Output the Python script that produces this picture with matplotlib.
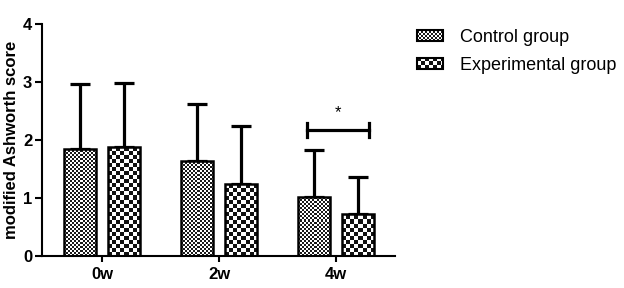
import numpy as np
import matplotlib
matplotlib.use("Agg")
import matplotlib.pyplot as plt
from matplotlib.patches import Rectangle
from matplotlib.legend_handler import HandlerBase

plt.rcParams['font.family'] = ['Liberation Sans', 'DejaVu Sans']

weeks = ['0w', '2w', '4w']
groups = ['Control group', 'Experimental group']
control_mean = [1.84, 1.63, 1.02]
control_sd = [1.12, 0.99, 0.81]
exp_mean = [1.88, 1.24, 0.73]
exp_sd = [1.11, 1.00, 0.63]

# checker cell size (pixels) for each group
cells = [2, 4]
dark = ['#1a1a1a', '#111111']


def checker(nx, ny, c0, c1):
    a = (np.add.outer(np.arange(ny), np.arange(nx)) % 2).astype(float)
    rgb0 = np.array(matplotlib.colors.to_rgb(c0))
    rgb1 = np.array(matplotlib.colors.to_rgb(c1))
    return rgb0[None, None, :] * (1 - a[..., None]) + rgb1[None, None, :] * a[..., None]


class CheckerHandler(HandlerBase):
    def __init__(self, cell, color):
        super().__init__()
        self.cell = cell
        self.color = color

    def create_artists(self, legend, orig_handle, xdescent, ydescent,
                       width, height, fontsize, trans):
        arts = []
        c = self.cell * 72 / 100.0
        nx = int(np.ceil(width / c))
        ny = int(np.ceil(height / c))
        for i in range(nx):
            for j in range(ny):
                if (i + j) % 2 == 0:
                    w = min(c, width - i * c)
                    h = min(c, height - j * c)
                    r = Rectangle((-xdescent + i * c, -ydescent + j * c), w, h,
                                  facecolor=self.color, edgecolor='none', transform=trans)
                    arts.append(r)
        frame = Rectangle((-xdescent, -ydescent), width, height, facecolor='none',
                          edgecolor='black', linewidth=1.5, transform=trans)
        arts.append(frame)
        return arts


fig = plt.figure(figsize=(6.24, 2.88), dpi=100)
ax = fig.add_axes([42 / 624, 1 - 256 / 288, (395 - 42) / 624, (256 - 24) / 288])
ax.set_xlim(-0.513, 2.504)
ax.set_ylim(0, 4)

x = np.arange(len(weeks))
off = 0.185
bw = 0.274

px_per_x = ax.transData.transform((1, 0))[0] - ax.transData.transform((0, 0))[0]
px_per_y = ax.transData.transform((0, 1))[1] - ax.transData.transform((0, 0))[1]

for gi, (means, sds) in enumerate([(control_mean, control_sd), (exp_mean, exp_sd)]):
    xs = x + (-off if gi == 0 else off)
    ax.errorbar(xs, means, yerr=[np.zeros(len(sds)), sds], fmt='none', ecolor='black',
                elinewidth=2.3, capsize=7.5, capthick=2.3, zorder=1)
    bars = ax.bar(xs, means, width=bw, facecolor='none', edgecolor='black',
                  linewidth=1.8, zorder=3, label=groups[gi])
    c = cells[gi]
    for b in bars:
        x0 = b.get_x()
        h = b.get_height()
        nx = int(np.ceil(bw * px_per_x / c)) + 1
        ny = int(np.ceil(h * px_per_y / c)) + 1
        img = checker(nx, ny, dark[gi], 'white')
        im = ax.imshow(img, extent=(x0, x0 + nx * c / px_per_x, 0, ny * c / px_per_y),
                       origin='lower', interpolation='nearest', aspect='auto', zorder=2)
        im.set_clip_path(b)

ax.set_xlim(-0.513, 2.504)
ax.set_ylim(0, 4)

# significance bracket
bx0, bx1, by = 1.752, 2.282, 2.17
ax.plot([bx0, bx1], [by, by], color='black', linewidth=2.3, clip_on=False)
ax.plot([bx0, bx0], [by - 0.12, by + 0.12], color='black', linewidth=2.3, clip_on=False)
ax.plot([bx1, bx1], [by - 0.12, by + 0.12], color='black', linewidth=2.3, clip_on=False)
ax.text((bx0 + bx1) / 2, 2.47, '*', ha='center', va='center', fontsize=12)

ax.set_xticks(x)
ax.set_xticklabels(weeks, fontsize=12, fontweight='bold')
ax.set_yticks([0, 1, 2, 3, 4])
ax.set_yticklabels(['0', '1', '2', '3', '4'], fontsize=12, fontweight='bold')
ax.set_ylabel('modified Ashworth score', fontsize=12, fontweight='bold', labelpad=3)
for s in ['top', 'right']:
    ax.spines[s].set_visible(False)
for s in ['left', 'bottom']:
    ax.spines[s].set_linewidth(1.5)
ax.tick_params(axis='y', direction='out', length=5, width=1.5, pad=2)
ax.tick_params(axis='x', direction='out', length=4, width=1.5, pad=4)

h0 = Rectangle((0, 0), 1, 1)
h1 = Rectangle((0, 0), 1, 1)
fig.legend([h0, h1], groups, loc='upper left', bbox_to_anchor=(417 / 624, 1 - 29 / 288),
           frameon=False, fontsize=13, borderpad=0, borderaxespad=0,
           handlelength=1.45, handleheight=0.55, handletextpad=0.95, labelspacing=0.6,
           handler_map={h0: CheckerHandler(2, dark[0]), h1: CheckerHandler(4, dark[1])})

fig.savefig('out.png', dpi=100)
